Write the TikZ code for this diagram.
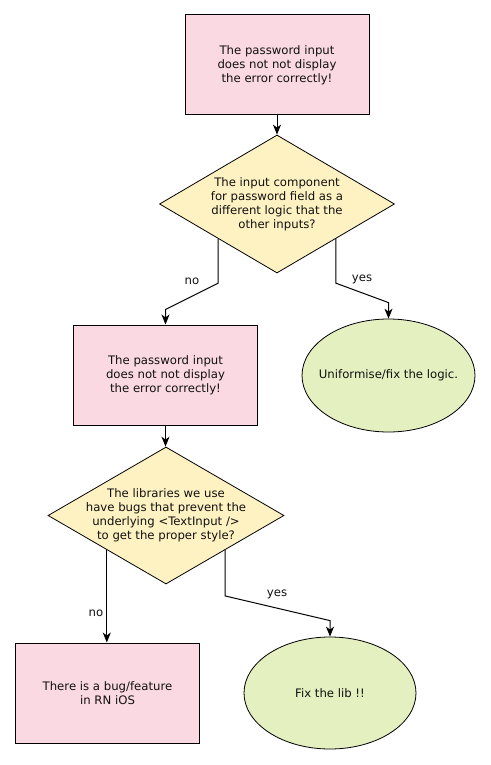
\documentclass[tikz,border=0pt]{standalone}
\usepackage{fontspec}
\setmainfont{DejaVu Sans}
\usetikzlibrary{shapes.geometric,arrows.meta,calc}
\definecolor{pinkfill}{HTML}{FAD9E3}
\definecolor{yellowfill}{HTML}{FFF2C2}
\definecolor{greenfill}{HTML}{E4F0C0}
\definecolor{ink}{HTML}{111111}
\begin{document}
\begin{tikzpicture}[x=1pt,y=-1pt,
  font=\fontsize{11.7}{14}\selectfont,
  txt/.style={align=center,text=ink,inner sep=0pt},
  procbox/.style={draw=black,line width=1pt,fill=pinkfill,minimum width=184pt,minimum height=100pt,txt},
  decision/.style={draw=black,line width=0.8pt,fill=yellowfill,shape=diamond,inner sep=0pt,minimum width=235pt,minimum height=138pt},
  endnode/.style={draw=black,line width=0.8pt,fill=greenfill,shape=ellipse,inner sep=0pt,minimum width=173pt,minimum height=113pt},
  conn/.style={draw=black,line width=1pt,-{Stealth[length=10pt,width=8pt,inset=3pt]}},
  edgelabel/.style={txt}]
\useasboundingbox (0,0) rectangle (490,765);
\fill[white] (0,0) rectangle (490,765);

\node[procbox] (r1) at (277,65) {The password input\\does not not display\\the error correctly!};
\node[decision,label={[txt]center:{The input component\\for password field as a\\different logic that the\\other inputs?}}] (d1) at (277,204) {};
\node[procbox] (r2) at (165.5,375) {The password input\\does not not display\\the error correctly!};
\node[endnode,label={[txt]center:{Uniformise/fix the logic.}}] (e1) at (388.5,375.5) {};
\node[decision,minimum width=236pt,minimum height=137pt,label={[txt]center:{The libraries we use\\have bugs that prevent the\\underlying <TextInput />\\to get the proper style?}}] (d2) at (166,515.5) {};
\node[procbox] (r3) at (107.5,693) {There is a bug/feature\\in RN iOS};
\node[endnode,minimum width=172pt,minimum height=112pt,label={[txt]center:{Fix the lib !!}}] (e2) at (330,693) {};

\node[edgelabel] (l1) at (192,281) {no};
\node[edgelabel] (l2) at (362,279) {yes};
\node[edgelabel] (l3) at (96,613) {no};
\node[edgelabel] (l4) at (277,594) {yes};

\draw[conn] (r1.south) -- (d1.north);
\draw[conn] (d1.south west) -- ($(d1.south west)+(0,44.5)$) -- ($(r2.north)+(0,-15)$) -- (r2.north);
\draw[conn] (d1.south east) -- ($(d1.south east)+(0,44.5)$) -- ($(e1.north)+(0,-16)$) -- (e1.north);
\draw[conn] (r2.south) -- (r2.south |- d2.north);
\draw[conn] (d2.south west) -- (d2.south west |- r3.north);
\draw[conn] (d2.south east) -- ($(d2.south east)+(0,46)$) -- ($(e2.north)+(0,-16)$) -- (e2.north);
\end{tikzpicture}
\end{document}
